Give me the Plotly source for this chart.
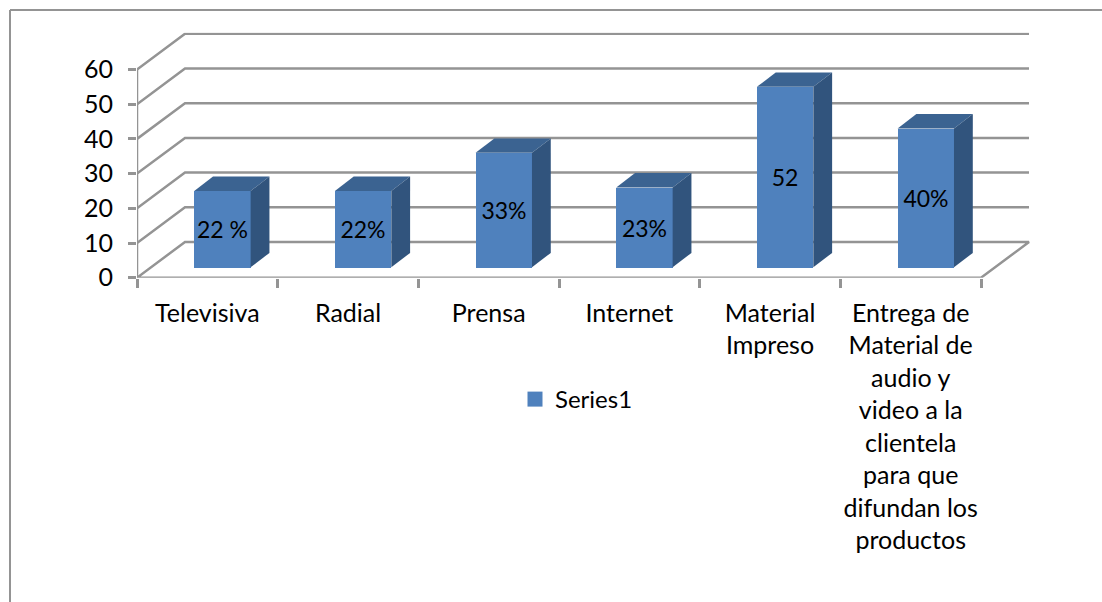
import plotly.graph_objects as go

# --- data ---
categories = ["Televisiva", "Radial", "Prensa", "Internet", "Material<br>Impreso",
              "Entrega de<br>Material de<br>audio y<br>video a la<br>clientela<br>para que<br>difundan los<br>productos"]
values = [22, 22, 33, 23, 52, 40]
labels = ["22 %", "22%", "33%", "23%", "52", "40%"]
y_ticks = [0, 10, 20, 30, 40, 50, 60]
series_name = "Series1"

# --- style ---
W, H = 1102, 602
FONT = "Lato"
FS = 25
GRID = "#949494"
FRONT, TOP, SIDE = "#4F81BD", "#3B6391", "#31547D"
px_per_cat, px_per_unit = 140.67, 3.47
plot_l, plot_r, plot_t, plot_b = 137, 1031, 32.7, 277.7
x0, x1 = -0.5, -0.5 + (plot_r - plot_l) / px_per_cat
y0, y1 = 0, (plot_b - plot_t) / px_per_unit
wall_dx, wall_dy = 48 / px_per_cat, 35.7 / px_per_unit
gap_dx, gap_dy = 15.1 / px_per_cat, 10.4 / px_per_unit
bar_dx, bar_dy = 18.8 / px_per_cat, 14.4 / px_per_unit
bar_w = 56.4 / px_per_cat
n = len(categories)

fig = go.Figure()


def line(xs, ys):
    fig.add_trace(go.Scatter(x=xs, y=ys, mode="lines", line=dict(color=GRID, width=2.5),
                             showlegend=False, hoverinfo="skip", xaxis="x", yaxis="y", cliponaxis=False))


# walls and floor
for t in y_ticks:
    line([x0, x0 + wall_dx, n - 0.5 + wall_dx] if t else [x0, x0 + wall_dx, n - 0.5 + wall_dx, n - 0.5, x0],
         [t, t + wall_dy, t + wall_dy] if t else [t, t + wall_dy, t + wall_dy, t, t])
line([x0, x0], [0, max(y_ticks)])

# bars
xs = [i + gap_dx for i in range(n)]
fig.add_trace(go.Bar(x=xs, y=values, base=gap_dy, width=bar_w, marker=dict(color=FRONT, line=dict(width=0)),
                     text=labels, textposition="inside", insidetextanchor="middle", constraintext="none",
                     textangle=0, insidetextfont=dict(color="black", family=FONT, size=23),
                     showlegend=False, hoverinfo="skip", xaxis="x2", yaxis="y"))
for x, v in zip(xs, values):
    l, r = x - bar_w / 2, x + bar_w / 2
    b, t = gap_dy, gap_dy + v
    fig.add_trace(go.Scatter(x=[l, r, r + bar_dx, l + bar_dx, l], y=[t, t, t + bar_dy, t + bar_dy, t],
                             fill="toself", fillcolor=TOP, mode="none", showlegend=False,
                             hoverinfo="skip", xaxis="x2", yaxis="y"))
    fig.add_trace(go.Scatter(x=[r, r + bar_dx, r + bar_dx, r, r], y=[b, b + bar_dy, t + bar_dy, t, b],
                             fill="toself", fillcolor=SIDE, mode="none", showlegend=False,
                             hoverinfo="skip", xaxis="x2", yaxis="y"))

# legend entry
fig.add_trace(go.Scatter(x=[None], y=[None], mode="markers", name=series_name,
                         marker=dict(symbol="square", size=15, color=FRONT), xaxis="x2", yaxis="y"))

frame = dict(color=GRID, width=2)
fig.update_layout(
    width=W, height=H, margin=dict(l=0, r=0, t=0, b=0), autosize=False,
    paper_bgcolor="white", plot_bgcolor="rgba(0,0,0,0)",
    font=dict(family=FONT, size=FS, color="black"),
    xaxis=dict(domain=[plot_l / W, plot_r / W], range=[x0, x1], tickmode="array", automargin=False,
               tickvals=list(range(n)), ticktext=categories, showgrid=False, zeroline=False,
               ticks="", showline=False, ticklabelstandoff=18, tickangle=0, anchor="y"),
    xaxis2=dict(domain=[plot_l / W, plot_r / W], range=[x0, x1], overlaying="x", anchor="y", side="bottom",
                tickmode="array", tickvals=[i - 0.5 for i in range(n + 1)], showticklabels=False,
                ticks="outside", ticklen=9, tickwidth=2.5, tickcolor=GRID, showgrid=False, zeroline=False,
                showline=False, automargin=False),
    yaxis=dict(domain=[1 - plot_b / H, 1 - plot_t / H], range=[y0, y1], tickmode="array", tickvals=y_ticks,
               ticks="outside", ticklen=8, tickwidth=2.5, tickcolor=GRID, showgrid=False, zeroline=False,
               showline=False, ticklabelstandoff=10, automargin=False),
    legend=dict(x=515 / W, y=1 - 399.5 / H, xanchor="left", yanchor="middle", bgcolor="rgba(0,0,0,0)",
                font=dict(family=FONT, size=24)),
    bargap=0,
    showlegend=True,
    shapes=[
        dict(type="line", xref="paper", yref="paper", x0=10 / W, x1=1, y0=1 - 10 / H, y1=1 - 10 / H, line=frame),
        dict(type="line", xref="paper", yref="paper", x0=10 / W, x1=10 / W, y0=0, y1=1 - 10 / H, line=frame),
    ],
)

fig.write_html("out.html", config=dict(displayModeBar=False),
               post_script="document.body.style.margin='0';document.documentElement.style.overflow='hidden';")
